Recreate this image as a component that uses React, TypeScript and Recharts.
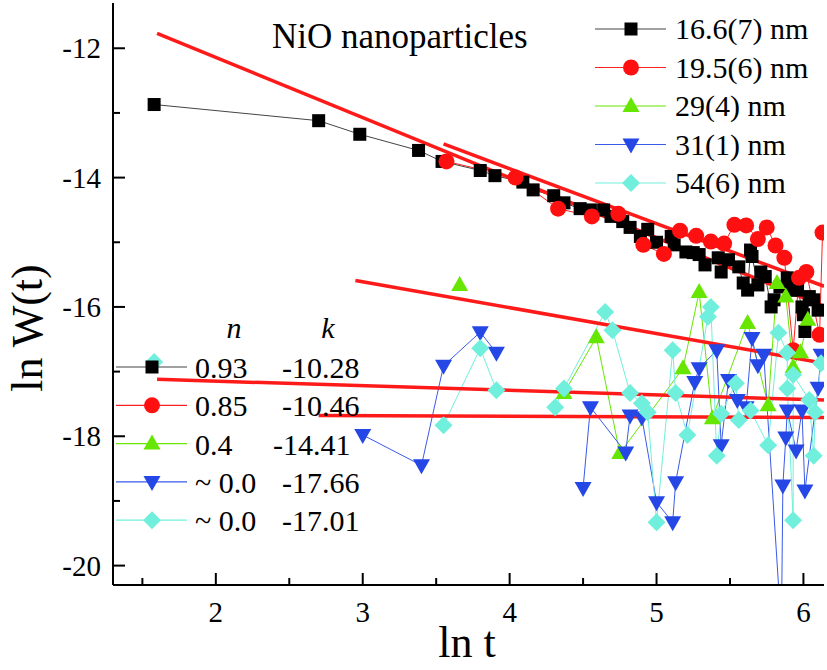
import React from 'react';
import { ComposedChart, Line, XAxis, YAxis } from 'recharts';

type Pt = [number, number | null];

const FONT = '"Liberation Serif", "Times New Roman", serif';

const xTicks = [1.5, 2, 2.5, 3, 3.5, 4, 4.5, 5, 5.5, 6];
const yTicks = [-20, -19, -18, -17, -16, -15, -14, -13, -12];

// 16.6(7) nm
const blackPts: Pt[] = [
  [1.58, -12.87], [2.7, -13.12], [2.98, -13.33], [3.38, -13.58], [3.54, -13.75],
  [3.8, -13.89], [3.9, -13.97], [4.09, -14.07], [4.16, -14.19], [4.3, -14.28],
  [4.37, -14.39], [4.48, -14.48], [4.55, -14.5], [4.64, -14.5], [4.69, -14.6],
  [4.77, -14.68], [4.82, -14.77], [4.89, -14.91], [4.94, -14.8], [5.0, -15.0],
  [5.1, -14.91], [5.12, -15.04], [5.2, -15.15], [5.25, -15.16], [5.29, -15.19],
  [5.33, -15.35], [5.42, -15.24], [5.44, -15.46], [5.49, -15.27], [5.56, -15.38],
  [5.59, -15.63], [5.62, -15.74], [5.64, -15.12], [5.65, -15.22], [5.69, -15.66],
  [5.71, -15.46], [5.74, -15.53], [5.78, -16.0], [5.8, -15.89], [5.84, -15.69],
  [5.89, -15.55], [5.91, -15.74], [5.96, -15.74], [5.99, -16.0], [6.0, -16.12],
  [6.01, -16.38], [6.04, -15.84], [6.07, -15.89], [6.1, -16.05],
];

// 19.5(6) nm
const redPts: Pt[] = [
  [3.57, -13.75], [4.04, -14.0], [4.33, -14.48], [4.56, -14.6], [4.74, -14.56],
  [4.91, -15.04], [5.05, -15.18], [5.16, -14.82], [5.27, -14.9], [5.37, -14.99],
  [5.46, -15.02], [5.53, -14.73], [5.61, -14.74], [5.69, -14.95], [5.75, -14.77],
  [5.81, -15.05], [5.87, -15.24], [5.93, -16.67], [5.97, -15.55], [6.02, -15.46],
  [6.11, -16.43], [6.13, -14.85],
];

// 29(4) nm
const greenPts: Pt[] = [
  [3.66, -15.66], [4.0, null], [4.37, -17.33], [4.59, -16.47], [4.75, -18.26],
  [5.18, -16.95], [5.29, -15.77], [5.38, -17.72], [5.62, -16.25], [5.76, -17.52],
  [5.82, -15.63], [5.88, -15.84], [5.93, -16.93], [5.98, -16.7], [6.03, -16.2],
];

// 31(1) nm
const bluePts: Pt[] = [
  [3.0, -17.98], [3.4, -18.45], [3.55, -16.91], [3.8, -16.39], [3.91, -16.71],
  [4.2, null], [4.5, -18.8], [4.55, -17.55], [4.79, -18.25], [4.82, -17.68],
  [4.9, -17.71], [5.0, -19.02], [5.11, -19.33], [5.13, -18.71], [5.26, -17.16],
  [5.29, -16.95], [5.41, -16.67], [5.44, -18.14], [5.49, -17.13], [5.55, -17.44],
  [5.61, -17.55], [5.65, -16.48], [5.69, -16.9], [5.73, -16.74], [5.85, -21.0],
  [5.86, -18.76], [5.88, -18.02], [5.89, -17.6], [5.95, -18.22], [5.99, -17.6],
  [6.01, -18.84], [6.1, -17.25], [6.12, -16.74],
];

// 54(6) nm
const cyanPts: Pt[] = [
  [1.58, -16.85], [2.5, null], [3.55, -17.83], [3.8, -16.64], [3.91, -17.29],
  [4.1, null], [4.31, -17.55], [4.37, -17.26], [4.65, -16.08], [4.7, -16.36],
  [4.82, -17.33], [4.9, -17.49], [4.94, -17.63], [5.0, -19.33], [5.11, -16.67],
  [5.13, -17.33], [5.21, -17.98], [5.35, -16.15], [5.37, -16.0], [5.41, -18.3],
  [5.44, -17.65], [5.54, -17.18], [5.56, -17.75], [5.64, -17.6], [5.76, -18.14],
  [5.83, -16.4], [5.89, -16.71], [5.89, -17.26], [5.93, -19.3], [5.93, -17.05],
  [6.04, -17.44], [6.07, -18.3], [6.08, -17.63], [6.12, -16.87],
];

// linear fits, end points
const fitBlack: Pt[] = [[1.6, -11.77], [6.14, -15.99]];
const fitRed: Pt[] = [[3.55, -13.48], [6.14, -15.68]];
const fitGreen: Pt[] = [[2.95, -15.59], [6.14, -16.87]];
const fitCyan: Pt[] = [[1.6, -17.12], [6.14, -17.44]];
const fitBlue: Pt[] = [[2.7, -17.68], [6.14, -17.71]];

const sizeLabels = ['16.6(7) nm', '19.5(6) nm', '29(4) nm', '31(1) nm', '54(6) nm'];
const nLabels = ['0.93', '0.85', '0.4', '~ 0.0', '~ 0.0'];
const kLabels = ['-10.28', '-10.46', '-14.41', '-17.66', '-17.01'];

const COLORS = ['#000000', '#ff1010', '#66e600', '#2547e6', '#70f0dc'];
const LINE_COLORS = ['#444444', '#ff2020', '#66e600', '#3a5ae8', '#70f0dc'];
const SHAPES = ['square', 'circle', 'up', 'down', 'diamond'];

const rows = (pts: Pt[]) => pts.map(([x, y]) => ({ x, y }));

function Marker({ kind, cx, cy, fill }: { kind: string; cx: number; cy: number; fill: string }) {
  if (kind === 'square') return <rect x={cx - 6.5} y={cy - 6.5} width={13} height={13} fill={fill} />;
  if (kind === 'circle') return <circle cx={cx} cy={cy} r={8} fill={fill} />;
  if (kind === 'up')
    return <polygon points={`${cx},${cy - 9} ${cx + 8.5},${cy + 6} ${cx - 8.5},${cy + 6}`} fill={fill} />;
  if (kind === 'down')
    return <polygon points={`${cx - 8.5},${cy - 6} ${cx + 8.5},${cy - 6} ${cx},${cy + 9}`} fill={fill} />;
  return <polygon points={`${cx},${cy - 9} ${cx + 9},${cy} ${cx},${cy + 9} ${cx - 9},${cy}`} fill={fill} />;
}

const makeDot = (kind: string, fill: string) => (props: any) => {
  const { cx, cy, index } = props;
  if (cx == null || cy == null || props.payload?.y == null || cy > 586 || cy < 2) return <g key={index} />;
  return (
    <g key={index}>
      <Marker kind={kind} cx={cx} cy={cy} fill={fill} />
    </g>
  );
};

const BottomTick = (p: any) => {
  const v = p.payload.value;
  const major = Number.isInteger(v);
  return (
    <g>
      <line x1={p.x} x2={p.x} y1={p.y} y2={p.y - (major ? 12 : 7)} stroke="#000" strokeWidth={2} />
      {major && (
        <text x={p.x} y={p.y + 37} textAnchor="middle" fontSize={29} fontFamily={FONT} fill="#000">
          {v}
        </text>
      )}
    </g>
  );
};

const TopTick = (p: any) => {
  const major = Number.isInteger(p.payload.value);
  return <line x1={p.x} x2={p.x} y1={p.y} y2={p.y + (major ? 12 : 7)} stroke="#000" strokeWidth={2} />;
};

const LeftTick = (p: any) => {
  const v = p.payload.value;
  const major = v % 2 === 0;
  return (
    <g>
      <line x1={p.x} x2={p.x + (major ? 12 : 7)} y1={p.y} y2={p.y} stroke="#000" strokeWidth={2} />
      {major && (
        <text x={p.x - 12} y={p.y + 10} textAnchor="end" fontSize={29} fontFamily={FONT} fill="#000">
          {`${v}`}
        </text>
      )}
    </g>
  );
};

const RightTick = (p: any) => {
  const major = p.payload.value % 2 === 0;
  return <line x1={p.x} x2={p.x - (major ? 12 : 7)} y1={p.y} y2={p.y} stroke="#000" strokeWidth={2} />;
};

const series = [blackPts, redPts, greenPts, bluePts, cyanPts];
const fits = [fitBlack, fitRed, fitGreen, fitCyan, fitBlue];

export default function App() {
  return (
    <div style={{ position: 'absolute', left: 0, top: 0, width: 827, height: 670, background: '#fff' }}>
      <ComposedChart width={827} height={670} margin={{ top: 3, right: 3, left: 0, bottom: 0 }}>
        <XAxis
          dataKey="x"
          type="number"
          domain={[1.3, 6.14]}
          ticks={xTicks}
          interval={0}
          allowDataOverflow
          height={85}
          tickSize={0}
          tickMargin={0}
          tickLine={false}
          axisLine={{ stroke: '#000', strokeWidth: 2 }}
          tick={BottomTick}
        />
        <XAxis
          xAxisId="top"
          orientation="top"
          dataKey="x"
          type="number"
          domain={[1.3, 6.14]}
          ticks={xTicks}
          interval={0}
          allowDataOverflow
          height={0}
          tickSize={0}
          tickMargin={0}
          tickLine={false}
          axisLine={{ stroke: '#000', strokeWidth: 2 }}
          tick={TopTick}
        />
        <YAxis
          type="number"
          domain={[-20.3, -11.3]}
          ticks={yTicks}
          interval={0}
          allowDataOverflow
          width={113}
          tickSize={0}
          tickMargin={0}
          tickLine={false}
          axisLine={{ stroke: '#000', strokeWidth: 2 }}
          tick={LeftTick}
        />
        <YAxis
          yAxisId="right"
          orientation="right"
          type="number"
          domain={[-20.3, -11.3]}
          ticks={yTicks}
          interval={0}
          allowDataOverflow
          width={0}
          tickSize={0}
          tickMargin={0}
          tickLine={false}
          axisLine={{ stroke: '#000', strokeWidth: 2 }}
          tick={RightTick}
        />
        {series.map((pts, i) => (
          <Line
            key={`s${i}`}
            data={rows(pts)}
            dataKey="y"
            type="linear"
            stroke={LINE_COLORS[i]}
            strokeWidth={1}
            dot={makeDot(SHAPES[i], COLORS[i])}
            activeDot={false}
            isAnimationActive={false}
          />
        ))}
        {fits.map((pts, i) => (
          <Line
            key={`f${i}`}
            data={rows(pts)}
            dataKey="y"
            type="linear"
            stroke="#ff1a1a"
            strokeWidth={3.5}
            dot={false}
            activeDot={false}
            isAnimationActive={false}
          />
        ))}
      </ComposedChart>

      <svg
        width={827}
        height={670}
        style={{ position: 'absolute', left: 0, top: 0, pointerEvents: 'none' }}
        fontFamily={FONT}
      >
        <text x={272} y={48} fontSize={35} fill="#000">
          NiO nanoparticles
        </text>
        <text x={467} y={657} fontSize={44} textAnchor="middle" fill="#000">
          ln t
        </text>
        <text x={42} y={328} fontSize={44} textAnchor="middle" fill="#000" transform="rotate(-90, 42, 328)">
          ln W(t)
        </text>

        {sizeLabels.map((label, i) => {
          const cy = 29 + i * 38.5;
          return (
            <g key={label}>
              <line x1={595} x2={666} y1={cy} y2={cy} stroke={LINE_COLORS[i]} strokeWidth={1.2} />
              <Marker kind={SHAPES[i]} cx={631} cy={cy} fill={COLORS[i]} />
              <text x={675} y={cy + 10} fontSize={30} fill="#000">
                {label}
              </text>
            </g>
          );
        })}

        <text x={234} y={338} fontSize={30} fontStyle="italic" textAnchor="middle" fill="#000">
          n
        </text>
        <text x={328} y={338} fontSize={30} fontStyle="italic" textAnchor="middle" fill="#000">
          k
        </text>
        {nLabels.map((n, i) => {
          const cy = 367 + i * 38.3;
          return (
            <g key={`leg${i}`}>
              <line x1={116} x2={187} y1={cy} y2={cy} stroke={LINE_COLORS[i]} strokeWidth={1.2} />
              <Marker kind={SHAPES[i]} cx={152} cy={cy} fill={COLORS[i]} />
              <text x={195} y={cy + 11} fontSize={30} fill="#000">
                {n}
              </text>
              <text x={i === 2 ? 273 : 282} y={cy + 11} fontSize={30} fill="#000">
                {kLabels[i]}
              </text>
            </g>
          );
        })}
      </svg>
    </div>
  );
}
